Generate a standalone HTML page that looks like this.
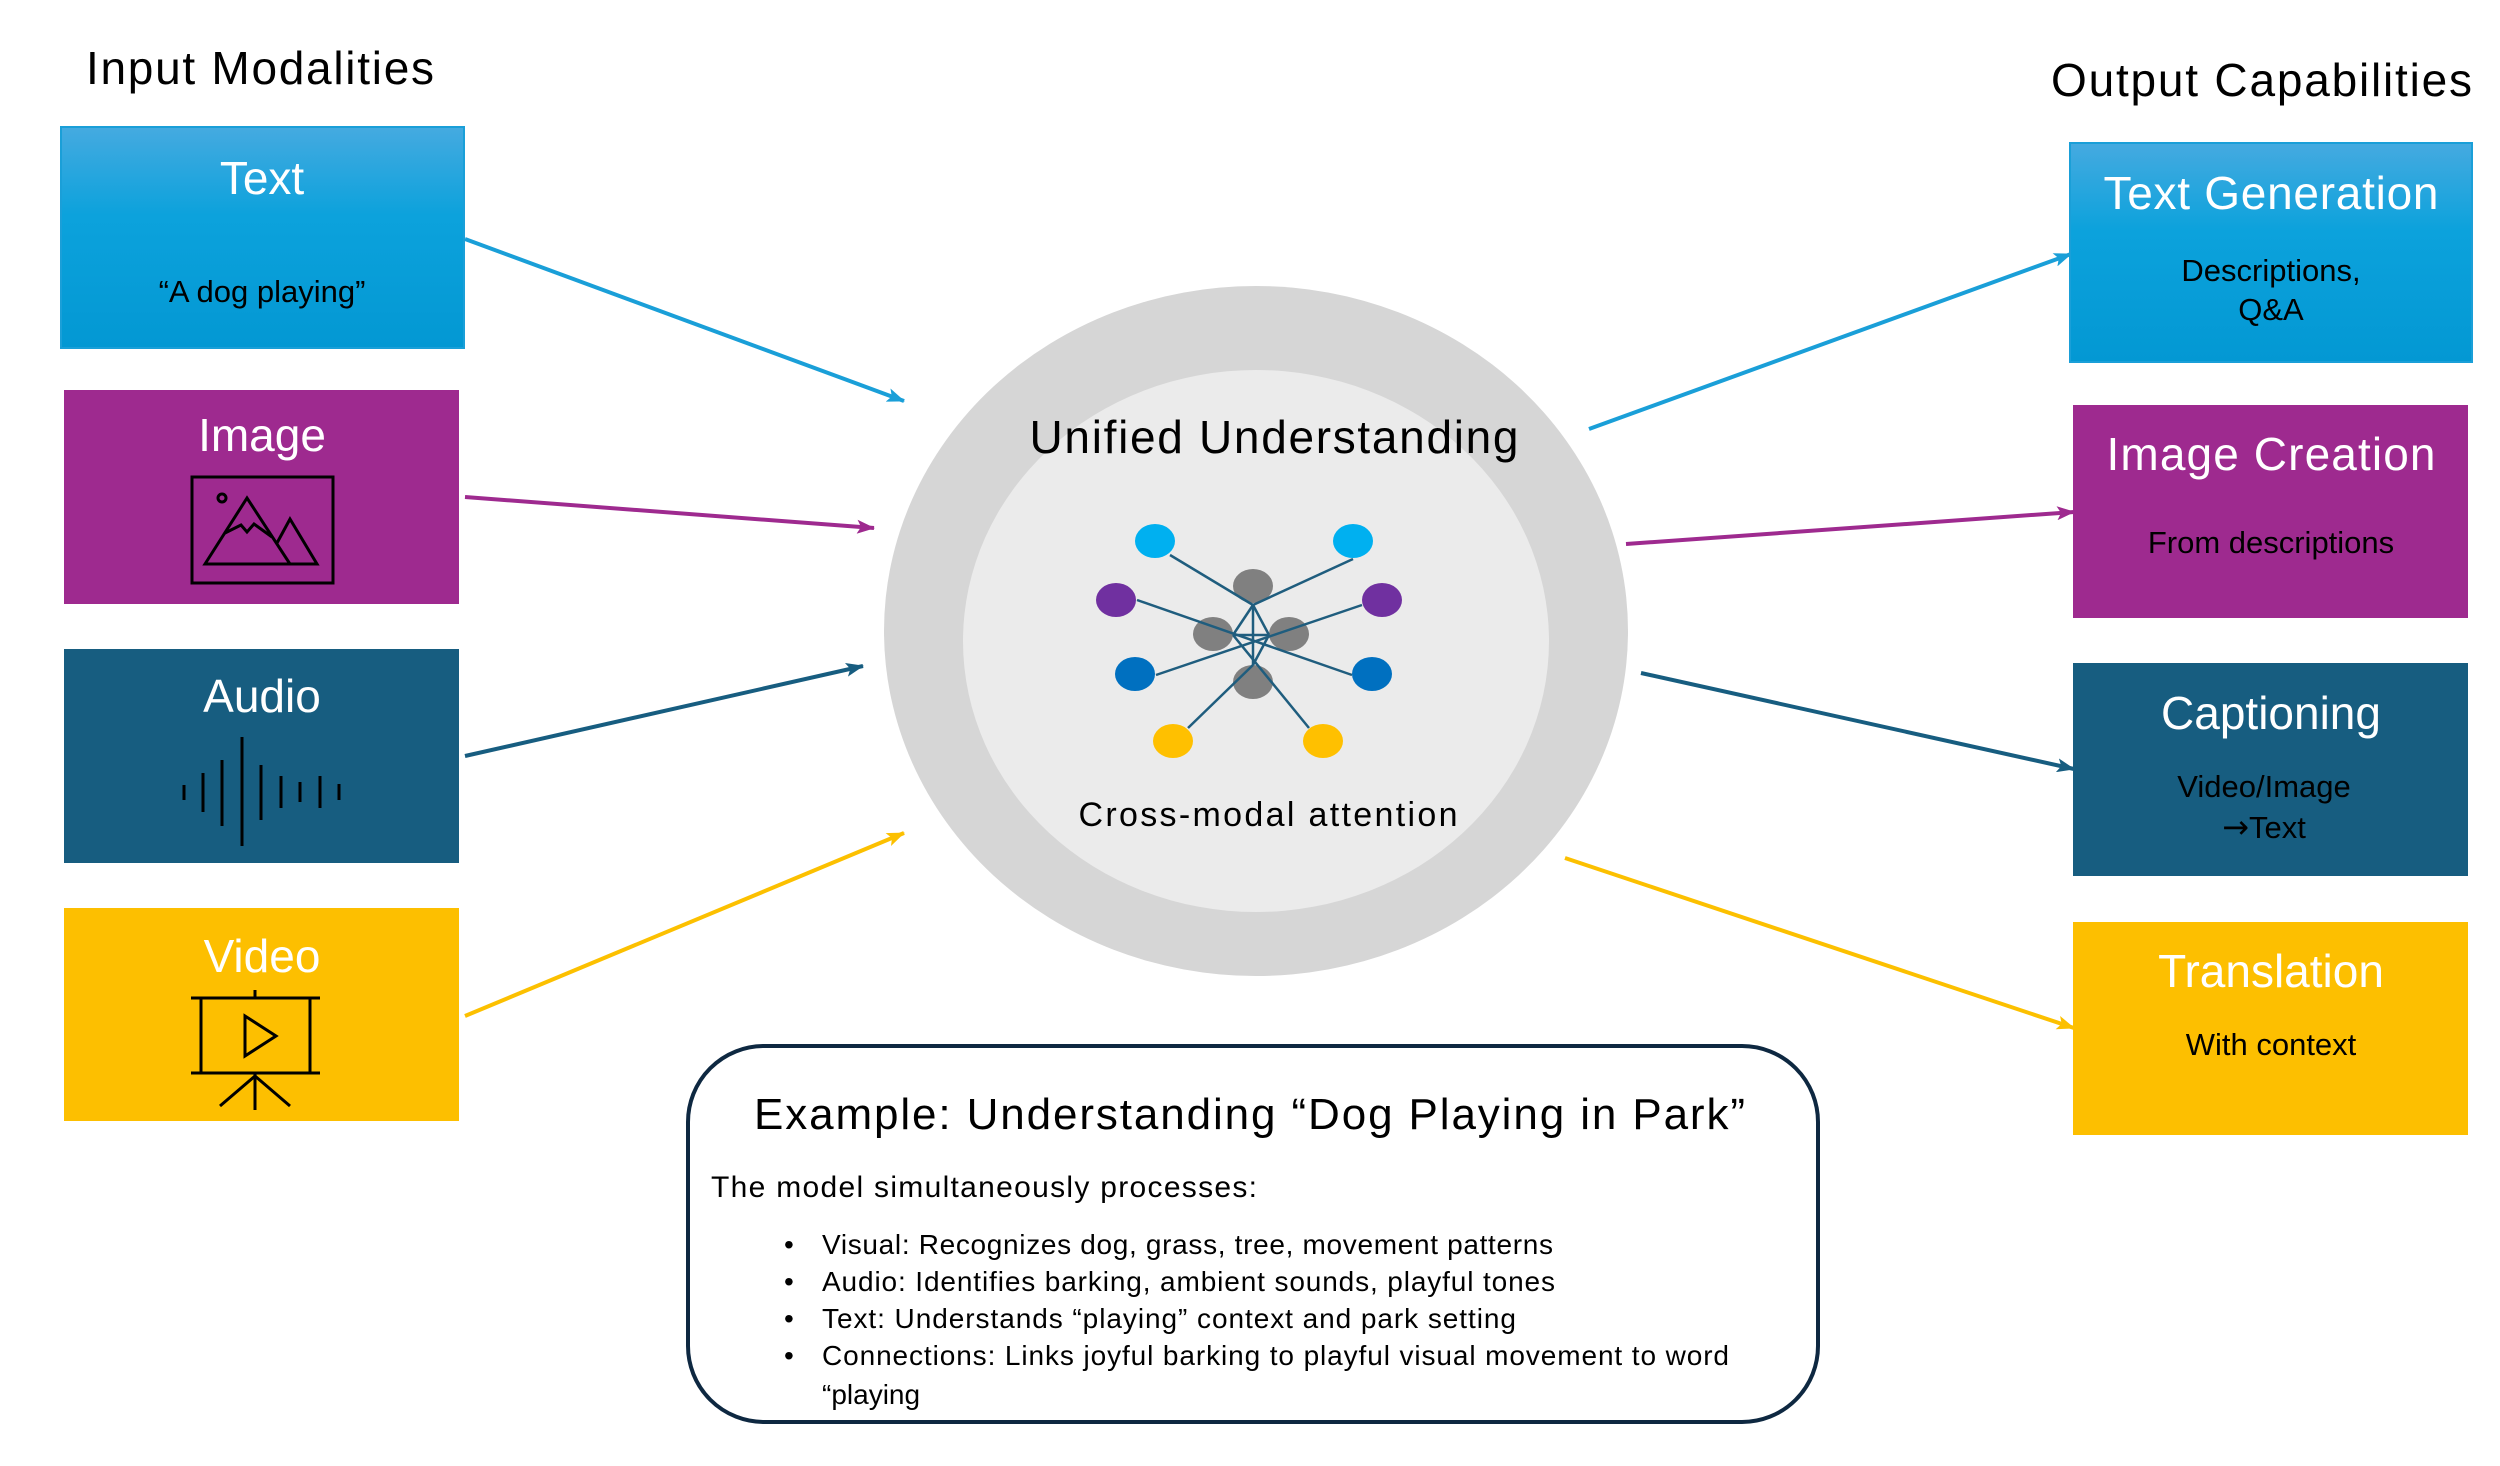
<!DOCTYPE html>
<html><head><meta charset="utf-8"><style>
html,body{margin:0;padding:0;background:#fff;}
svg{display:block;font-family:"Liberation Sans",sans-serif;}
</style></head><body>
<svg width="2500" height="1466" viewBox="0 0 2500 1466" xmlns="http://www.w3.org/2000/svg">
<defs>
<linearGradient id="bl" x1="0" y1="0" x2="0" y2="1">
<stop offset="0" stop-color="#45aae0"/><stop offset="0.4" stop-color="#0ca2dc"/><stop offset="1" stop-color="#0398d3"/></linearGradient>
<marker id="mc" markerWidth="18" markerHeight="14" refX="17" refY="7" orient="auto" markerUnits="userSpaceOnUse" viewBox="0 0 18 14"><path d="M0,0 L18,7 L0,14 L4,7z" fill="#1a9fd8"/></marker>
<marker id="mp" markerWidth="18" markerHeight="14" refX="17" refY="7" orient="auto" markerUnits="userSpaceOnUse" viewBox="0 0 18 14"><path d="M0,0 L18,7 L0,14 L4,7z" fill="#9e2a8f"/></marker>
<marker id="mt" markerWidth="18" markerHeight="14" refX="17" refY="7" orient="auto" markerUnits="userSpaceOnUse" viewBox="0 0 18 14"><path d="M0,0 L18,7 L0,14 L4,7z" fill="#175d80"/></marker>
<marker id="my" markerWidth="18" markerHeight="14" refX="17" refY="7" orient="auto" markerUnits="userSpaceOnUse" viewBox="0 0 18 14"><path d="M0,0 L18,7 L0,14 L4,7z" fill="#fcc000"/></marker>
</defs>
<style>
.m{fill:#000;font-size:46px}
.w{fill:#fff;font-size:46px}
.s{fill:#000;font-size:31px}
</style>
<rect width="2500" height="1466" fill="#fff"/>

<text x="86" y="84" class="m" textLength="348">Input Modalities</text>
<text x="2051" y="96" class="m" textLength="421">Output Capabilities</text>

<rect x="61" y="127" width="403" height="221" fill="url(#bl)" stroke="#1a9fd8" stroke-width="2"/>
<text x="262" y="194" class="w" text-anchor="middle" font-size="48">Text</text>
<text x="262" y="302" class="s" text-anchor="middle">“A dog playing”</text>

<rect x="64" y="390" width="395" height="214" fill="#9e2a8f"/>
<text x="262" y="451" class="w" text-anchor="middle" font-size="48">Image</text>
<g fill="none" stroke="#000" stroke-width="3">
<rect x="192" y="477" width="141" height="106"/>
<circle cx="222" cy="498" r="4"/>
<path d="M205,564 L247,498 L290,564 Z"/>
<path d="M277,543 L290,519 L317,564 L287,564"/>
<path d="M225,533 L241,525 L247,532 L254,524 L272,537"/>
</g>

<rect x="64" y="649" width="395" height="214" fill="#175d80"/>
<text x="262" y="712" class="w" text-anchor="middle" font-size="48">Audio</text>
<g stroke="#000" stroke-width="3">
<line x1="184" y1="785" x2="184" y2="800"/>
<line x1="203" y1="773" x2="203" y2="812"/>
<line x1="222" y1="760" x2="222" y2="826"/>
<line x1="242" y1="737" x2="242" y2="846"/>
<line x1="261" y1="765" x2="261" y2="820"/>
<line x1="281" y1="776" x2="281" y2="808"/>
<line x1="300" y1="782" x2="300" y2="802"/>
<line x1="320" y1="776" x2="320" y2="808"/>
<line x1="339" y1="784" x2="339" y2="800"/>
</g>

<rect x="64" y="908" width="395" height="213" fill="#fdbf00"/>
<text x="262" y="972" class="w" text-anchor="middle" font-size="48">Video</text>
<g fill="none" stroke="#000" stroke-width="3">
<line x1="191" y1="998" x2="320" y2="998"/>
<line x1="191" y1="1073" x2="320" y2="1073"/>
<line x1="201" y1="998" x2="201" y2="1073"/>
<line x1="310" y1="998" x2="310" y2="1073"/>
<line x1="255" y1="990" x2="255" y2="998"/>
<path d="M245,1016 L276,1036 L245,1056 Z"/>
<line x1="255" y1="1073" x2="255" y2="1110"/>
<line x1="255" y1="1076" x2="220" y2="1106"/>
<line x1="255" y1="1076" x2="290" y2="1106"/>
</g>

<line x1="465" y1="239" x2="904" y2="401" stroke="#1a9fd8" stroke-width="4" marker-end="url(#mc)"/>
<line x1="465" y1="497" x2="874" y2="528" stroke="#9e2a8f" stroke-width="4" marker-end="url(#mp)"/>
<line x1="465" y1="756" x2="863" y2="666" stroke="#175d80" stroke-width="4" marker-end="url(#mt)"/>
<line x1="465" y1="1016" x2="904" y2="833" stroke="#fcc000" stroke-width="4" marker-end="url(#my)"/>

<ellipse cx="1256" cy="631" rx="372" ry="345" fill="#d6d6d6"/>
<ellipse cx="1256" cy="641" rx="293" ry="271" fill="#ebebeb"/>
<text x="1274" y="453" class="m" text-anchor="middle" font-size="45" textLength="489">Unified Understanding</text>
<text x="1268" y="826" text-anchor="middle" font-size="34" textLength="379">Cross-modal attention</text>

<g fill="#808080">
<ellipse cx="1253" cy="586" rx="20" ry="17"/>
<ellipse cx="1213" cy="634" rx="20" ry="17"/>
<ellipse cx="1289" cy="634" rx="20" ry="17"/>
<ellipse cx="1253" cy="682" rx="20" ry="17"/>
</g>
<g stroke="#1f5d7e" stroke-width="2.5">
<line x1="1170" y1="555" x2="1253" y2="605"/>
<line x1="1353" y1="559" x2="1253" y2="605"/>
<line x1="1137" y1="600" x2="1352" y2="675"/>
<line x1="1362" y1="605" x2="1156" y2="675"/>
<line x1="1253" y1="605" x2="1253" y2="665"/>
<line x1="1253" y1="605" x2="1233" y2="635"/>
<line x1="1253" y1="605" x2="1269" y2="635"/>
<line x1="1233" y1="635" x2="1269" y2="635"/>
<line x1="1233" y1="635" x2="1309" y2="728"/>
<line x1="1269" y1="635" x2="1253" y2="665"/>
<line x1="1253" y1="665" x2="1188" y2="728"/>
</g>
<ellipse cx="1155" cy="541" rx="20" ry="17" fill="#00b0f0"/>
<ellipse cx="1353" cy="541" rx="20" ry="17" fill="#00b0f0"/>
<ellipse cx="1116" cy="600" rx="20" ry="17" fill="#7030a0"/>
<ellipse cx="1382" cy="600" rx="20" ry="17" fill="#7030a0"/>
<ellipse cx="1135" cy="674" rx="20" ry="17" fill="#0070c0"/>
<ellipse cx="1372" cy="674" rx="20" ry="17" fill="#0070c0"/>
<ellipse cx="1173" cy="741" rx="20" ry="17" fill="#ffc000"/>
<ellipse cx="1323" cy="741" rx="20" ry="17" fill="#ffc000"/>

<line x1="1589" y1="429" x2="2071" y2="254" stroke="#1a9fd8" stroke-width="4" marker-end="url(#mc)"/>
<line x1="1626" y1="544" x2="2074" y2="512" stroke="#9e2a8f" stroke-width="4" marker-end="url(#mp)"/>
<line x1="1641" y1="673" x2="2074" y2="769" stroke="#175d80" stroke-width="4" marker-end="url(#mt)"/>
<line x1="1565" y1="858" x2="2074" y2="1028" stroke="#fcc000" stroke-width="4" marker-end="url(#my)"/>

<rect x="2070" y="143" width="402" height="219" fill="url(#bl)" stroke="#1a9fd8" stroke-width="2"/>
<text x="2271" y="209" class="w" text-anchor="middle" textLength="335">Text Generation</text>
<text x="2271" y="281" class="s" text-anchor="middle">Descriptions,</text>
<text x="2271" y="320" class="s" text-anchor="middle">Q&amp;A</text>

<rect x="2073" y="405" width="395" height="213" fill="#9e2a8f"/>
<text x="2271" y="470" class="w" text-anchor="middle" textLength="329">Image Creation</text>
<text x="2271" y="553" class="s" text-anchor="middle">From descriptions</text>

<rect x="2073" y="663" width="395" height="213" fill="#175d80"/>
<text x="2271" y="729" class="w" text-anchor="middle">Captioning</text>
<text x="2264" y="797" class="s" text-anchor="middle">Video/Image</text>
<text x="2264" y="838" class="s" text-anchor="middle"><tspan font-family="DejaVu Sans, sans-serif" font-size="32">→</tspan>Text</text>

<rect x="2073" y="922" width="395" height="213" fill="#fdbf00"/>
<text x="2271" y="987" class="w" text-anchor="middle">Translation</text>
<text x="2271" y="1055" class="s" text-anchor="middle">With context</text>

<rect x="688" y="1046" width="1130" height="376" rx="76" ry="76" fill="#fff" stroke="#0e2841" stroke-width="4"/>
<text x="754" y="1129" font-size="44" textLength="991">Example: Understanding “Dog Playing in Park”</text>
<text x="711" y="1197" font-size="30" textLength="546">The model simultaneously processes:</text>
<g font-size="28">
<text x="784" y="1254">•</text><text x="822" y="1254" textLength="731">Visual: Recognizes dog, grass, tree, movement patterns</text>
<text x="784" y="1291">•</text><text x="822" y="1291" textLength="733">Audio: Identifies barking, ambient sounds, playful tones</text>
<text x="784" y="1328">•</text><text x="822" y="1328" textLength="694">Text: Understands “playing” context and park setting</text>
<text x="784" y="1365">•</text><text x="822" y="1365" textLength="907">Connections: Links joyful barking to playful visual movement to word</text>
<text x="822" y="1404">“playing</text>
</g>
</svg>
</body></html>
